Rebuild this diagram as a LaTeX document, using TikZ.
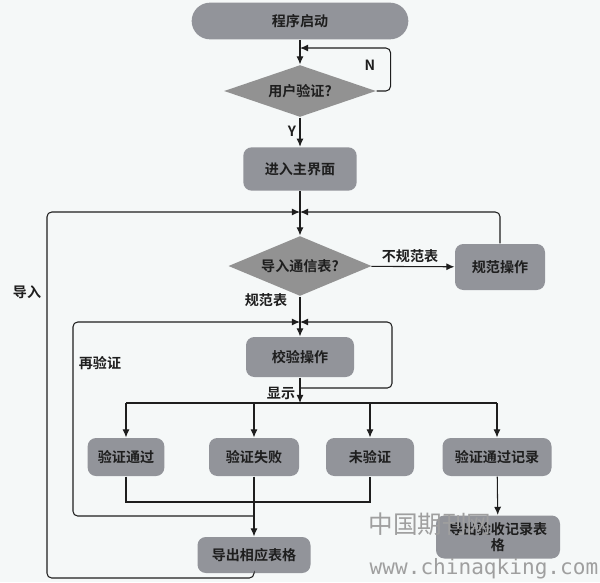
\documentclass[tikz,border=0pt]{standalone}
\usepackage{fontspec}
\setmainfont{Noto Sans CJK SC}[BoldFont={Noto Sans CJK SC Bold}]
\newfontfamily\wmfont{DejaVu Sans Mono}
\usetikzlibrary{shapes.geometric,arrows.meta}
\definecolor{paper}{RGB}{245,248,248}
\definecolor{boxgray}{RGB}{146,148,154}
\definecolor{diagray}{RGB}{146,146,146}
\definecolor{inkgray}{RGB}{30,30,30}
\begin{document}
\begin{tikzpicture}[x=0.03cm, y=-0.03cm, >={Latex[length=7pt,width=6pt]}, line width=0.9pt, color=inkgray]
      \tikzset{
	  startblock/.style={rectangle, rounded corners=0.55cm, fill=boxgray, minimum width=6.5cm, minimum height=1.1cm, text centered, font=\fontsize{12}{14}\selectfont\bfseries},
	  decisionblock/.style={diamond, aspect=2.6, inner sep=0pt, fill=diagray, text centered, font=\fontsize{12}{14}\selectfont\bfseries},
	  actionblock/.style={rectangle, rounded corners=0.25cm, fill=boxgray, minimum height=1.14cm, text centered, font=\fontsize{12}{14}\selectfont\bfseries},
	  mylabel/.style={inner sep=1pt, font=\fontsize{12}{14}\selectfont\bfseries},
	  watermark/.style={text=gray!75, inner sep=0pt}
      }

      \path[fill=paper] (0,0) rectangle (600,582);

      \node[startblock] (start) at (300,21) {程序启动};
      \node[decisionblock, minimum width=4.56cm, minimum height=1.56cm] (login) at (300,91) {用户验证?};
      \node[actionblock, minimum width=3.4cm, minimum height=1.3cm] (mainwin) at (300,169) {进入主界面};
      \node[decisionblock, minimum width=4.3cm, minimum height=1.8cm] (import) at (300,266) {导入通信表?};
      \node[actionblock, minimum width=2.7cm, minimum height=1.38cm] (normop) at (500,267) {规范操作};
      \node[actionblock, minimum width=3.24cm, minimum height=1.2cm] (checkop) at (300,357) {校验操作};
      \node[actionblock, minimum width=2.3cm] (passed) at (126,457) {验证通过};
      \node[actionblock, minimum width=2.7cm] (failed) at (254,457) {验证失败};
      \node[actionblock, minimum width=2.64cm] (unchecked) at (370,457) {未验证};
      \node[actionblock, minimum width=3.27cm] (recordpass) at (497,457) {验证通过记录};
      \node[actionblock, minimum width=3.39cm, minimum height=1.08cm] (exportsheet) at (254,555) {导出相应表格};
      \node[actionblock, minimum width=3.72cm, minimum height=1.29cm, align=center, font=\fontsize{12}{13}\selectfont\bfseries] (exportrec) at (498,537) {导出验收记录表\\格};

      \coordinate (nback) at (300,48);
      \coordinate (mergeA) at (300,212);
      \coordinate (mergeB) at (300,322);
      \coordinate (recheck) at (300,388);
      \coordinate (showpt) at (300,403);
      \coordinate (rowjoin) at (126,502);
      \coordinate (retry) at (254,516);
      \coordinate (bottomrun) at (254,578);

      % main line
      \draw[->] (start) -- (login);
      \draw[->, rounded corners=4] (login.east) -- ++(14,0) |- (nback);
      \draw[->] (login) -- (mainwin);
      \draw[->] (mainwin) -- (import);
      \draw[->] (import) -- (normop);
      \draw[->, rounded corners=4] (normop.north) |- (mergeA);
      \draw[->] (import) -- (checkop);
      \draw[->, rounded corners=4] (recheck) -- ++(92,0) |- (mergeB);
      \draw[->] (checkop) -- (showpt);

      % results
      \draw (passed |- showpt) -- (recordpass |- showpt);
      \foreach \res in {passed,failed,unchecked,recordpass}
        \draw[->] (\res |- showpt) -- (\res);
      \draw (passed.south) |- (unchecked |- rowjoin) -- (unchecked.south);
      \draw[->] (failed) -- (exportsheet);
      \draw[->, rounded corners=4] (retry) -- ++(-181,0) |- (mergeB);
      \draw[->, rounded corners=4] (exportsheet.south) -- (bottomrun) -- ++(-207,0) |- (mergeA);
      \draw[->] (recordpass) -- (exportrec);

      % labels
      \node[mylabel] (nmark) at (370,65) {N};
      \node[mylabel] (ymark) at (292,131) {Y};
      \node[mylabel] (badsheet) at (410,256) {不规范表};
      \node[mylabel] (goodsheet) at (266,300) {规范表};
      \node[mylabel] (importlbl) at (27,292) {导入};
      \node[mylabel] (retrylbl) at (100,363) {再验证};
      \node[mylabel] (showlbl) at (281,393) {显示};

      \node[watermark, font=\fontsize{21}{21}\selectfont] (wmcn) at (430,524) {中国期刊网};
      \node[watermark, font=\wmfont\fontsize{18}{18}\selectfont] (wmurl) at (484,569) {www.chinaqking.com};
    \end{tikzpicture}
\end{document}
